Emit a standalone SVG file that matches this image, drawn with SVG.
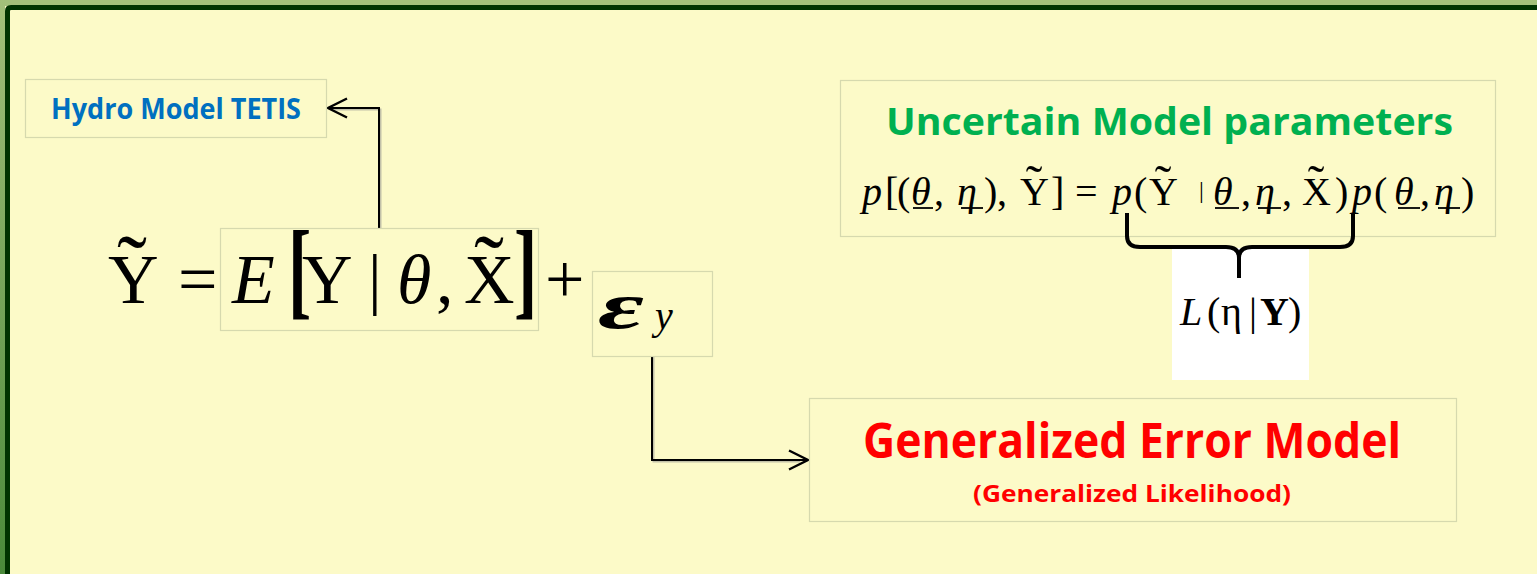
<svg xmlns="http://www.w3.org/2000/svg" width="1537" height="574" viewBox="0 0 1537 574">
<style>
.box{fill:#fcfac8;stroke:#d6d9ae;stroke-width:1.2}
.sans{font-family:"Open Sans","Liberation Sans",sans-serif;font-weight:700}
.m{font-family:"Liberation Serif","DejaVu Serif",serif;fill:#000}
.i{font-style:italic}
.conn{fill:none;stroke:#000;stroke-width:2}
.shadow{fill:none;stroke:#888;stroke-width:2;opacity:0.5}
.ul{stroke:#000;stroke-width:1.8}
</style>
<defs>
<linearGradient id="lg" x1="0" y1="0" x2="0" y2="1">
<stop offset="0" stop-color="#a3c07a"/>
<stop offset="1" stop-color="#4a8a3a"/>
</linearGradient>
<marker id="arr" markerUnits="userSpaceOnUse" markerWidth="24" markerHeight="24" refX="20" refY="12" orient="auto">
<path d="M1,2.5 L20,12 L1,21.5" fill="none" stroke="#000" stroke-width="2.4"/>
</marker>
</defs>
<rect x="0" y="0" width="1537" height="574" fill="#fcfac8"/>
<rect x="0" y="0" width="1537" height="6" fill="#a3c07a"/>
<rect x="0" y="0" width="5" height="574" fill="url(#lg)"/>
<path d="M7.5,574 L7.5,11 Q7.5,7.5 11,7.5 L1537,7.5" fill="none" stroke="#003300" stroke-width="5"/>

<g id="connectors">
<path class="shadow" d="M380.5,228 L380.5,109.5 L332,109.5"/>
<path class="conn" d="M379,228 L379,108 L328,108" marker-end="url(#arr)"/>
<path class="shadow" d="M653.5,356 L653.5,461.5 L800,461.5"/>
<path class="conn" d="M652,356 L652,460 L808,460" marker-end="url(#arr)"/>
</g>

<g id="hydro">
<rect class="box" x="25.5" y="79.5" width="301" height="58"/>
<text class="sans" x="51" y="119" font-size="28" fill="#0070c0" textLength="250" lengthAdjust="spacingAndGlyphs">Hydro Model TETIS</text>
</g>

<g id="equation">
<text class="m" x="108" y="303" font-size="70">Y</text>
<text class="m" x="132" y="298" font-size="90" text-anchor="middle">˜</text>
<text class="m" x="178" y="303" font-size="70">=</text>
</g>

<g id="expectation">
<rect class="box" x="220.5" y="228.5" width="318" height="102"/>
<text class="m i" x="232" y="303" font-size="70">E</text>
<text class="m" transform="scale(1,1.55)" x="288" y="196.6" font-size="70" font-weight="700">[</text>
<text class="m" x="302" y="303" font-size="70">Y</text>
<text class="m" x="368" y="302" font-size="68">|</text>
<text class="m i" x="397" y="303" font-size="70">θ</text>
<text class="m" x="436" y="303" font-size="70">,</text>
<text class="m" x="464" y="303" font-size="70">X</text>
<text class="m" x="489" y="298" font-size="90" text-anchor="middle">˜</text>
<text class="m" transform="scale(1,1.55)" x="514" y="196.6" font-size="70" font-weight="700">]</text>
<text class="m" x="545" y="303" font-size="70">+</text>
</g>

<g id="epsilon">
<rect class="box" x="592.5" y="271.5" width="120" height="85"/>
<text class="m i" transform="translate(598,328) scale(1.7,1)" x="0" y="0" font-size="66" font-weight="700">ε</text>
<text class="m i" x="655" y="329" font-size="40">y</text>
</g>

<g id="params">
<rect class="box" x="840.5" y="80.5" width="655" height="156"/>
<text class="sans" x="886" y="135" font-size="38" fill="#00b050" textLength="567" lengthAdjust="spacingAndGlyphs">Uncertain Model parameters</text>
<text class="m" y="205" font-size="40"><tspan class="i" x="862">p</tspan><tspan x="885 897">[(</tspan><tspan class="i" x="911">θ</tspan><tspan x="934">,</tspan><tspan class="i" x="957">η</tspan><tspan x="984 997">),</tspan><tspan x="1020">Y</tspan><tspan x="1051">]</tspan><tspan x="1075">=</tspan><tspan class="i" x="1112">p</tspan><tspan x="1134">(</tspan><tspan x="1149">Y</tspan><tspan class="i" x="1213">θ</tspan><tspan x="1241">,</tspan><tspan class="i" x="1255">η</tspan><tspan x="1282">,</tspan><tspan x="1302">X</tspan><tspan x="1335">)</tspan><tspan class="i" x="1352">p</tspan><tspan x="1374">(</tspan><tspan class="i" x="1394">θ</tspan><tspan x="1420">,</tspan><tspan class="i" x="1434">η</tspan><tspan x="1461">)</tspan></text>
<text class="m" x="1199" y="198" font-size="24">|</text>
<text class="m" y="200" font-size="50" text-anchor="middle"><tspan x="1034">˜</tspan><tspan x="1163">˜</tspan><tspan x="1316">˜</tspan></text>
<line class="ul" x1="913" y1="208" x2="933" y2="208"/>
<line class="ul" x1="961" y1="208" x2="983" y2="208"/>
<line class="ul" x1="1215" y1="208" x2="1239" y2="208"/>
<line class="ul" x1="1258" y1="208" x2="1281" y2="208"/>
<line class="ul" x1="1398" y1="208" x2="1420" y2="208"/>
<line class="ul" x1="1438" y1="208" x2="1460" y2="208"/>
</g>

<g id="likelihood">
<rect x="1172" y="248" width="137" height="132" fill="#ffffff"/>
<text class="m" y="325" font-size="40"><tspan class="i" x="1180">L</tspan><tspan x="1207">(</tspan><tspan x="1221">η</tspan><tspan x="1249">|</tspan><tspan x="1260" font-weight="700">Y</tspan><tspan x="1288">)</tspan></text>
</g>

<g id="brace">
<path d="M1127,213 L1127,236 Q1127,247 1140,247 L1226,247 Q1239,247 1239,258 L1239,278 M1239,258 Q1239,247 1252,247 L1340,247 Q1353,247 1353,236 L1353,213" fill="none" stroke="#000" stroke-width="4"/>
</g>

<g id="error">
<rect class="box" x="809.5" y="398.5" width="647" height="123"/>
<text class="sans" x="863" y="458" font-size="49" fill="#ff0000" textLength="538" lengthAdjust="spacingAndGlyphs">Generalized Error Model</text>
<text class="sans" x="973" y="502" font-size="24" fill="#ff0000" textLength="318" lengthAdjust="spacingAndGlyphs">(Generalized Likelihood)</text>
</g>
</svg>
